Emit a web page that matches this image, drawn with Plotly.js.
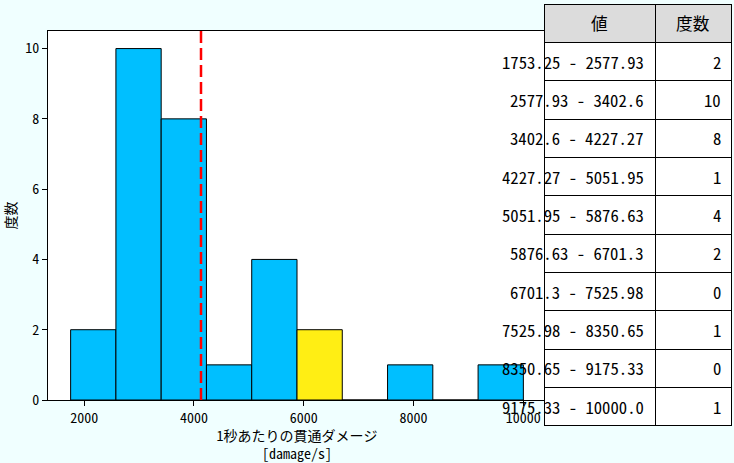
<!DOCTYPE html>
<html>
<head>
<meta charset="utf-8">
<script src="https://cdn.plot.ly/plotly-3.0.1.min.js"></script>
<style>
html,body{margin:0;padding:0;background:#f0ffff;}
#chart{width:734px;height:463px;}
</style>
</head>
<body>
<div id="chart"></div>
<script>
// ---- data ----
var binEdges = [1753.25, 2577.93, 3402.6, 4227.27, 5051.95, 5876.63, 6701.3, 7525.98, 8350.65, 9175.33, 10000.0];
var binLabels = ["1753.25","2577.93","3402.6","4227.27","5051.95","5876.63","6701.3","7525.98","8350.65","9175.33","10000.0"];
var counts = [2, 10, 8, 1, 4, 2, 0, 1, 0, 1];
var meanValue = 4128;
var highlightBin = 5;
var tableHeader = ["値", "度数"];
var xTickVals = [2000, 4000, 6000, 8000, 10000];
var yTickVals = [0, 2, 4, 6, 8, 10];

// ---- layout geometry ----
var W = 734, H = 463;
var ml = 48, mr = 3, mt = 4, mb = 37;
var pw = W - ml - mr, ph = H - mt - mb;
function px2x(px){ return (px - ml) / pw; }
function px2y(py){ return (H - mb - py) / ph; }

var plotRight = 546, plotTop = 31, plotBottom = 400;
var tableLeft = 544, colSplit = 655, tableRight = 731, tableTop = 4, tableBottom = 426;
var nRows = counts.length + 1;
var rowH = (tableBottom - tableTop) / nRows;

var FONT = '"Noto Sans Mono CJK JP", "Noto Sans CJK JP", "DejaVu Sans Mono", monospace';
var TFS = 16.7;

var centers = [], widths = [], colors = [];
for (var i = 0; i < counts.length; i++) {
  centers.push((binEdges[i] + binEdges[i+1]) / 2);
  widths.push(binEdges[i+1] - binEdges[i]);
  colors.push(i === highlightBin ? '#ffee14' : '#00bfff');
}
var rangeLabels = [];
for (var i = 0; i < counts.length; i++) rangeLabels.push(binLabels[i] + ' - ' + binLabels[i+1]);

var span = binEdges[binEdges.length-1] - binEdges[0];
var xr = [binEdges[0] - 0.05*span, binEdges[binEdges.length-1] + 0.05*span];

var bars = {
  type: 'bar', x: centers, y: counts, width: widths,
  marker: {color: colors, line: {color: '#000000', width: 1}},
  hoverinfo: 'x+y', showlegend: false
};

// table grid (text placed with annotations so it can overflow and be centred vertically)
var table = {
  type: 'table',
  domain: {x: [px2x(tableLeft), 1], y: [0, 1]},
  columnwidth: [colSplit - tableLeft, tableRight - colSplit],
  header: {
    values: tableHeader.map(function(){return '';}),
    fill: {color: '#dcdcdc'},
    line: {color: '#000000', width: 1},
    height: rowH
  },
  cells: {
    values: [rangeLabels.map(function(){return '';}), counts.map(function(){return '';})],
    fill: {color: '#ffffff'},
    line: {color: '#000000', width: 1},
    height: rowH
  }
};

var annotations = [];
function addText(text, xpx, ypx, anchor) {
  annotations.push({
    xref: 'paper', yref: 'paper',
    x: px2x(xpx), y: px2y(ypx),
    xanchor: anchor, yanchor: 'middle',
    text: text, showarrow: false,
    font: {family: FONT, size: TFS, color: '#000000'}
  });
}
addText(tableHeader[0], (tableLeft + colSplit) / 2, tableTop + rowH/2, 'center');
addText(tableHeader[1], (colSplit + tableRight) / 2, tableTop + rowH/2, 'center');
for (var i = 0; i < rangeLabels.length; i++) {
  var cy = tableTop + rowH*(i+1) + rowH/2;
  addText(rangeLabels[i], colSplit - 9, cy, 'right');
  addText(String(counts[i]), tableRight - 8, cy, 'right');
}

var layout = {
  width: W, height: H,
  margin: {l: ml, r: mr, t: mt, b: mb, pad: 0},
  paper_bgcolor: '#f0ffff',
  plot_bgcolor: '#ffffff',
  font: {family: FONT, size: 14, color: '#000000'},
  showlegend: false,
  bargap: 0,
  xaxis: {
    domain: [0, px2x(plotRight)],
    range: xr, tickvals: xTickVals, ticktext: xTickVals.map(String),
    ticks: 'outside', ticklen: 5, tickwidth: 1, tickcolor: '#000',
    showline: true, mirror: true, linecolor: '#000', linewidth: 1,
    showgrid: false, zeroline: false,
    tickfont: {family: FONT, size: 14},
    title: {text: '1秒あたりの貫通ダメージ<br>[damage/s]', font: {family: FONT, size: 14}, standoff: 3}
  },
  yaxis: {
    domain: [px2y(plotBottom), px2y(plotTop)],
    range: [0, 10.5], tickvals: yTickVals, ticktext: yTickVals.map(String),
    ticks: 'outside', ticklen: 5, tickwidth: 1, tickcolor: '#000',
    showline: true, mirror: true, linecolor: '#000', linewidth: 1,
    showgrid: false, zeroline: false,
    tickfont: {family: FONT, size: 14},
    title: {text: '度数', font: {family: FONT, size: 14}, standoff: 8}
  },
  shapes: [{
    type: 'line', xref: 'x', yref: 'y domain',
    x0: meanValue, x1: meanValue, y0: 0, y1: 1,
    line: {color: '#ff0000', width: 2.5, dash: '12px,5px'}
  }],
  annotations: annotations
};

Plotly.newPlot('chart', [bars, table], layout, {displayModeBar: false, staticPlot: true});
</script>
</body>
</html>
